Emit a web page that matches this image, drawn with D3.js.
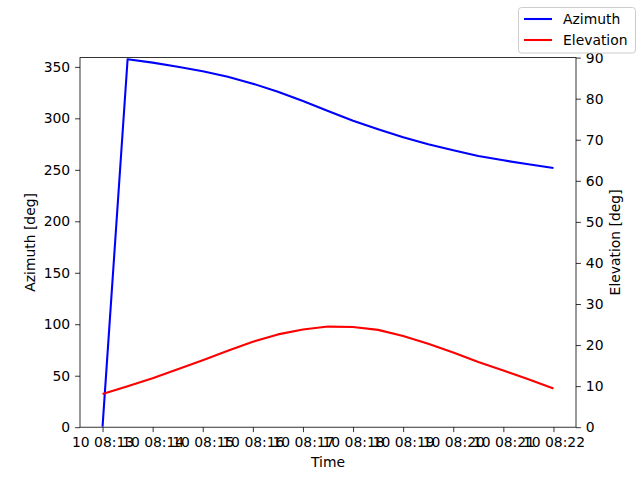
<!DOCTYPE html>
<html>
<head>
<meta charset="utf-8">
<script src="https://cdnjs.cloudflare.com/ajax/libs/d3/7.8.5/d3.min.js"></script>
<style>
  body { margin: 0; background: #fff; }
  text { font-family: "DejaVu Sans", sans-serif; }
</style>
</head>
<body>
<div id="chart"></div>
<script>
// samples every 30 s, day 10
const times = [
  '08:13:00', '08:13:30', '08:14:00', '08:14:30', '08:15:00', '08:15:30',
  '08:16:00', '08:16:30', '08:17:00', '08:17:30', '08:18:00', '08:18:30',
  '08:19:00', '08:19:30', '08:20:00', '08:20:30', '08:21:00', '08:21:30',
  '08:22:00'
];
const azimuth = [
  0.5, 357.4, 354.1, 350.2, 345.7, 340.5, 333.7, 325.9, 316.8, 307.1,
  297.7, 289.4, 281.6, 274.8, 269.0, 263.4, 259.2, 255.4, 251.8
];
const elevation = [
  8.1, 10.0, 11.9, 14.1, 16.3, 18.6, 20.8, 22.6, 23.8, 24.5,
  24.4, 23.7, 22.2, 20.3, 18.2, 15.9, 13.8, 11.7, 9.4
];
const tickTimes = ['08:13', '08:14', '08:15', '08:16', '08:17', '08:18', '08:19', '08:20', '08:21', '08:22'];
const azTicks = [0, 50, 100, 150, 200, 250, 300, 350];
const elTicks = [0, 10, 20, 30, 40, 50, 60, 70, 80, 90];
const seriesNames = ['Azimuth', 'Elevation'];
const seriesColors = ['blue', 'red'];

const W = 640, H = 480;
const m = { left: 80, right: 64, top: 57.6, bottom: 52.8 };
const fs = 13.9;

const parse = s => {
  const p = s.split(':').map(Number);
  return new Date(Date.UTC(2024, 0, 10, p[0], p[1], p[2] || 0));
};
const dates = times.map(parse);

const svg = d3.select('#chart').append('svg')
  .attr('width', W).attr('height', H);

// 5% margin like matplotlib
const ext = d3.extent(dates);
const pad = (ext[1] - ext[0]) * 0.05;
const x = d3.scaleUtc()
  .domain([new Date(+ext[0] - pad), new Date(+ext[1] + pad)])
  .range([m.left, W - m.right]);
const yL = d3.scaleLinear().domain([0, 359]).range([H - m.bottom, m.top]);
const yR = d3.scaleLinear().domain([0, 90]).range([H - m.bottom, m.top]);

const fmt = d3.utcFormat('%d %H:%M');

const styleAxis = g => {
  g.select('.domain').remove();
  g.selectAll('.tick line').attr('stroke', '#000').attr('stroke-width', 0.8);
  g.selectAll('.tick text').attr('font-size', fs).attr('fill', '#000')
    .attr('font-family', '"DejaVu Sans", sans-serif');
};

svg.append('g')
  .attr('transform', `translate(0,${H - m.bottom})`)
  .call(d3.axisBottom(x).tickValues(tickTimes.map(parse)).tickFormat(fmt)
    .tickSize(4.9).tickPadding(4.9))
  .call(styleAxis);

svg.append('g')
  .attr('transform', `translate(${m.left},0)`)
  .call(d3.axisLeft(yL).tickValues(azTicks).tickSize(4.9).tickPadding(4.9))
  .call(styleAxis);

svg.append('g')
  .attr('transform', `translate(${W - m.right},0)`)
  .call(d3.axisRight(yR).tickValues(elTicks).tickSize(4.9).tickPadding(4.9))
  .call(styleAxis);

const clip = svg.append('clipPath').attr('id', 'clip').append('rect')
  .attr('x', m.left).attr('y', m.top)
  .attr('width', W - m.left - m.right).attr('height', H - m.top - m.bottom);

const lineAz = d3.line().x((d, i) => x(dates[i])).y(d => yL(d));
const lineEl = d3.line().x((d, i) => x(dates[i])).y(d => yR(d));

svg.append('path').datum(azimuth)
  .attr('d', lineAz).attr('fill', 'none')
  .attr('stroke', seriesColors[0]).attr('stroke-width', 2.08)
  .attr('stroke-linejoin', 'round').attr('clip-path', 'url(#clip)');

svg.append('path').datum(elevation)
  .attr('d', lineEl).attr('fill', 'none')
  .attr('stroke', seriesColors[1]).attr('stroke-width', 2.08)
  .attr('stroke-linejoin', 'round').attr('clip-path', 'url(#clip)');

// frame
svg.append('rect')
  .attr('x', m.left).attr('y', m.top)
  .attr('width', W - m.left - m.right).attr('height', H - m.top - m.bottom)
  .attr('fill', 'none').attr('stroke', '#000').attr('stroke-width', 0.8);

// axis labels
svg.append('text').attr('x', (m.left + W - m.right) / 2).attr('y', 467)
  .attr('text-anchor', 'middle').attr('font-size', fs).text('Time');

svg.append('text')
  .attr('transform', `translate(35,${(m.top + H - m.bottom) / 2}) rotate(-90)`)
  .attr('text-anchor', 'middle').attr('font-size', fs).text('Azimuth [deg]');

svg.append('text')
  .attr('transform', `translate(620,${(m.top + H - m.bottom) / 2}) rotate(-90)`)
  .attr('text-anchor', 'middle').attr('font-size', fs).text('Elevation [deg]');

// figure legend, upper right
const lg = svg.append('g');
lg.append('rect')
  .attr('x', 518.5).attr('y', 7.5).attr('width', 117).attr('height', 45.5)
  .attr('rx', 3).attr('fill', '#fff').attr('fill-opacity', 0.8)
  .attr('stroke', '#cccccc').attr('stroke-width', 1);

seriesNames.forEach((name, i) => {
  const cy = 19 + i * 21;
  lg.append('line')
    .attr('x1', 524).attr('x2', 552).attr('y1', cy).attr('y2', cy)
    .attr('stroke', seriesColors[i]).attr('stroke-width', 2.08);
  lg.append('text')
    .attr('x', 563).attr('y', cy + 5)
    .attr('font-size', fs).text(name);
});
</script>
</body>
</html>
